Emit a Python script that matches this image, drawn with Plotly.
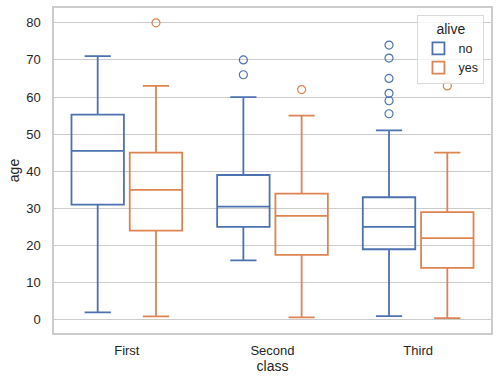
import plotly.graph_objects as go

classes = ["First", "Second", "Third"]
hues = ["no", "yes"]
colors = {"no": "#4c72b0", "yes": "#dd8452"}

# box statistics per hue, ordered by class
q1 = {"no": [31.0, 25.0, 19.0], "yes": [24.0, 17.5, 14.0]}
median = {"no": [45.5, 30.5, 25.0], "yes": [35.0, 28.0, 22.0]}
q3 = {"no": [55.25, 39.0, 33.0], "yes": [45.0, 34.0, 29.0]}
lower = {"no": [2.0, 16.0, 1.0], "yes": [0.92, 0.67, 0.42]}
upper = {"no": [71.0, 60.0, 51.0], "yes": [63.0, 55.0, 45.0]}
outliers = {
    "no": [[], [66.0, 70.0], [55.5, 59.0, 61.0, 65.0, 70.5, 74.0]],
    "yes": [[80.0], [62.0], [63.0]],
}

offsets = {"no": -0.2, "yes": 0.2}
box_width = 0.36

fig = go.Figure()
for h in hues:
    for i, c in enumerate(classes):
        pos = i + offsets[h]
        fig.add_trace(go.Box(
            x=[pos], q1=[q1[h][i]], median=[median[h][i]], q3=[q3[h][i]],
            lowerfence=[lower[h][i]], upperfence=[upper[h][i]],
            width=box_width, whiskerwidth=0.5, boxpoints=False,
            line=dict(color=colors[h], width=1.8),
            fillcolor="rgba(255,255,255,0)",
            name=h, legendgroup=h, showlegend=(i == 0),
        ))
        if outliers[h][i]:
            fig.add_trace(go.Scatter(
                x=[pos] * len(outliers[h][i]), y=outliers[h][i], mode="markers",
                marker=dict(symbol="circle-open", size=8, color=colors[h],
                            line=dict(width=1.2, color=colors[h])),
                legendgroup=h, showlegend=False, hoverinfo="y",
            ))

font = "Liberation Sans, Arial, sans-serif"
fig.update_layout(
    width=499, height=385,
    margin=dict(l=54, r=8, t=8, b=52, autoexpand=False),
    paper_bgcolor="white", plot_bgcolor="white",
    font=dict(family=font, color="#262626", size=13),
    legend=dict(
        title=dict(text="alive", side="top center", font=dict(size=14)),
        x=0.985, y=0.98, xanchor="right", yanchor="top",
        bordercolor="#d9d9d9", borderwidth=1, bgcolor="rgba(255,255,255,0.8)",
        font=dict(size=12.5), tracegroupgap=0, itemwidth=30,
    ),
    showlegend=True,
)
fig.update_xaxes(
    range=[-0.5, 2.5], tickvals=list(range(len(classes))), ticktext=classes,
    showgrid=False, zeroline=False, showline=True, mirror=True,
    linecolor="#cccccc", linewidth=1.5, ticks="", ticklabelstandoff=5,
    title=dict(text="class", font=dict(size=14), standoff=2),
    tickfont=dict(size=13), automargin=False,
)
fig.update_yaxes(
    range=[-3.56, 83.98], tickvals=[0, 10, 20, 30, 40, 50, 60, 70, 80],
    showgrid=True, gridcolor="#cccccc", gridwidth=1, zeroline=False,
    showline=True, mirror=True, linecolor="#cccccc", linewidth=1.5,
    ticks="", ticklabelstandoff=9,
    title=dict(text="age", font=dict(size=14), standoff=3),
    tickfont=dict(size=13), automargin=False,
)
fig.write_html("out.html", config={"displayModeBar": False},
               post_script="document.body.style.margin='0';")
